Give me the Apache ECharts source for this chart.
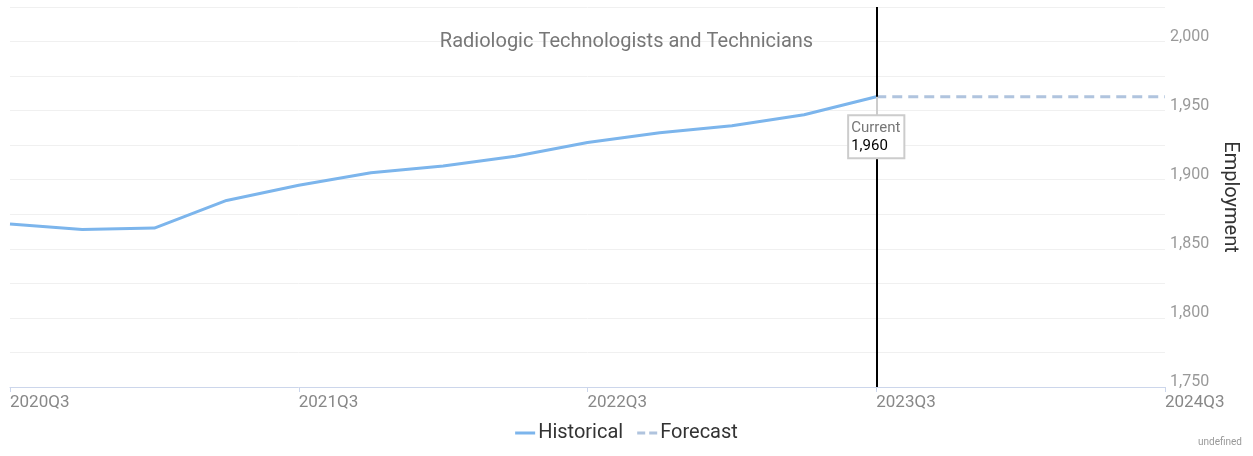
<!DOCTYPE html>
<html>
<head>
<meta charset="utf-8">
<script src="https://cdn.jsdelivr.net/npm/echarts@6/dist/echarts.min.js"></script>
<style>
  html, body { margin: 0; padding: 0; background: #fff; }
  #chart { width: 1253px; height: 456px; }
</style>
</head>
<body>
<div id="chart"></div>
<script>
// quarters shown on the x axis
var quarters = ['2020Q3','2020Q4','2021Q1','2021Q2','2021Q3','2021Q4','2022Q1','2022Q2',
                '2022Q3','2022Q4','2023Q1','2023Q2','2023Q3','2023Q4','2024Q1','2024Q2','2024Q3'];
// employment
var historical = [1868, 1864, 1865, 1885, 1896, 1905, 1910, 1917, 1927, 1934, 1939, 1947, 1960];
var forecast = [1960, 1960, 1960, 1960, 1960];
var currentQuarter = '2023Q3';
var currentValue = 1960;

// pad series to the full axis length
var histData = quarters.map(function (q, i) { return i < historical.length ? historical[i] : '-'; });
var fcStart = quarters.indexOf(currentQuarter);
var fcData = quarters.map(function (q, i) { return i >= fcStart ? forecast[i - fcStart] : '-'; });

var chart = echarts.init(document.getElementById('chart'));
chart.setOption({
  animation: false,
  textStyle: { fontFamily: 'Roboto, sans-serif' },
  title: [{
    text: 'Radiologic Technologists and Technicians',
    left: 'center',
    top: 27,
    textStyle: { fontSize: 20, fontWeight: 'normal', color: '#777' }
  }, {
    text: 'undefined',
    right: 6,
    bottom: 4,
    textStyle: { fontSize: 10, fontWeight: 'normal', color: '#999' }
  }],
  legend: {
    bottom: 8,
    left: 'center',
    itemWidth: 20,
    itemHeight: 3,
    itemGap: 14,
    textStyle: { fontSize: 20, color: '#333', padding: [0, 0, 0, -2] },
    data: [
      { name: 'Historical', icon: 'rect' },
      { name: 'Forecast', icon: 'path://M0,0H8V3H0Z M12,0H20V3H12Z' }
    ]
  },
  grid: { left: 10, right: 88, top: 7, bottom: 69 },
  xAxis: {
    type: 'category',
    data: quarters,
    boundaryGap: false,
    axisLine: { lineStyle: { color: '#ccd6eb' } },
    axisTick: { interval: 3, length: 5, lineStyle: { color: '#ccd6eb' } },
    axisLabel: { interval: 3, align: 'left', margin: 7, fontSize: 17, color: '#888' },
    splitLine: { show: false }
  },
  yAxis: {
    type: 'value',
    position: 'right',
    min: 1750,
    max: 2025,
    interval: 25,
    name: 'Employment',
    nameLocation: 'middle',
    nameRotate: -90,
    nameGap: 53,
    nameTextStyle: { fontSize: 20, color: '#333' },
    axisLine: { show: false },
    axisTick: { show: false },
    axisLabel: {
      margin: 5,
      fontSize: 16,
      lineHeight: 10,
      color: '#999',
      verticalAlign: 'bottom',
      formatter: function (v) { return v % 50 === 0 ? v.toLocaleString('en-US') : ''; }
    },
    splitLine: { lineStyle: { color: '#f0f0f0' } }
  },
  series: [{
    name: 'Historical',
    type: 'line',
    data: histData,
    symbol: 'none',
    z: 3,
    lineStyle: { color: '#7cb5ec', width: 3 },
    itemStyle: { color: '#7cb5ec' },
    markLine: {
      silent: true,
      symbol: 'none',
      label: { show: false },
      data: [
        { xAxis: currentQuarter, lineStyle: { color: '#000', width: 2, type: 'solid' } },
        [
          { coord: [currentQuarter, currentValue], lineStyle: { color: '#ccc', width: 2, type: 'solid' } },
          { coord: [currentQuarter, 1945] }
        ]
      ]
    },
    markPoint: {
      silent: true,
      symbol: 'rect',
      symbolSize: 1,
      itemStyle: { color: 'rgba(0,0,0,0)' },
      data: [{
        coord: [currentQuarter, currentValue],
        label: {
          show: true,
          position: 'inside',
          offset: [0, 40],
          backgroundColor: '#fff',
          borderColor: '#ccc',
          borderWidth: 2,
          padding: [3, 3, 2, 2],
          align: 'center',
          formatter: '{a|Current}\n{b|' + currentValue.toLocaleString('en-US') + '}',
          rich: {
            a: { fontSize: 15, color: '#777', lineHeight: 18, align: 'left' },
            b: { fontSize: 15, color: '#000', lineHeight: 18, align: 'left' }
          }
        }
      }]
    }
  }, {
    name: 'Forecast',
    type: 'line',
    data: fcData,
    symbol: 'none',
    z: 2,
    lineStyle: { color: '#b0c4de', width: 3, type: [10, 6] },
    itemStyle: { color: '#b0c4de' }
  }]
});
</script>
</body>
</html>
